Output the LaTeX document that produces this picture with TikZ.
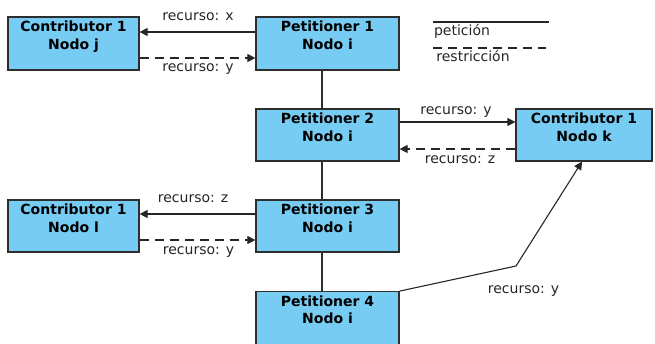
\documentclass[tikz,border=0pt]{standalone}
\usepackage{fontspec}
\setmainfont{DejaVu Sans}
\usetikzlibrary{arrows.meta}
\definecolor{boxfill}{RGB}{119,204,244}
\definecolor{edge}{RGB}{45,45,45}
\begin{document}
\begin{tikzpicture}[x=1pt,y=-1pt,
  box/.style={draw=edge,line width=1.2pt,fill=boxfill,minimum width=#1,minimum height=53pt,inner sep=0pt},
  box/.default=143pt,
  boxtext/.style={font=\fontsize{14pt}{17.5pt}\selectfont\bfseries,align=center,inner sep=0pt,anchor=north,yshift=-4.5pt},
  lbl/.style={font=\fontsize{14pt}{17pt}\selectfont,anchor=base,inner sep=0pt,text=black!85},
  arr/.style={draw=black!85,line width=1.1pt,-{Triangle[length=8pt,width=8pt]}},
  darr/.style={arr,dash pattern=on 9pt off 6pt},
  link/.style={draw=edge,line width=1.2pt}]
\clip (0,0) rectangle (655,343);
% boxes
\node[box=131pt,label={[boxtext]north:Contributor 1\\Nodo j}] (cj) at (73.5,43.5) {};
\node[box,label={[boxtext]north:Petitioner 1\\Nodo i}] (p1) at (327.5,43.5) {};
\node[box,minimum height=52pt,label={[boxtext]north:Petitioner 2\\Nodo i}] (p2) at (327.5,135) {};
\node[box=136pt,minimum height=52pt,label={[boxtext]north:Contributor 1\\Nodo k}] (ck) at (584,135) {};
\node[box,minimum height=52pt,label={[boxtext]north:Petitioner 3\\Nodo i}] (p3) at (327.5,226) {};
\node[box=131pt,minimum height=52pt,label={[boxtext]north:Contributor 1\\Nodo l}] (cl) at (73.5,226) {};
\node[box,minimum height=60pt,label={[boxtext]north:Petitioner 4\\Nodo i}] (p4) at (327.5,321.7) {};
% vertical links
\draw[link] (p1.south -| 322,0) -- (p2.north -| 322,0);
\draw[link] (p2.south -| 322,0) -- (p3.north -| 322,0);
\draw[link] (p3.south -| 322,0) -- (p4.north -| 322,0);
% arrows top
\draw[arr] (p1.west |- 0,32) -- (cj.east |- 0,32);
\draw[darr] (cj.east |- 0,58) -- (p1.west |- 0,58);
\node[lbl] (l1) at (198,20) {recurso: x};
\node[lbl] (l2) at (198,71) {recurso: y};
% arrows middle
\draw[arr] (p2.east |- 0,122) -- (ck.west |- 0,122);
\draw[darr] (ck.west |- 0,149) -- (p2.east |- 0,149);
\node[lbl] (l3) at (456,114.5) {recurso: y};
\node[lbl] (l4) at (460,163) {recurso: z};
% arrows lower
\draw[arr] (p3.west |- 0,214) -- (cl.east |- 0,214);
\draw[darr] (cl.east |- 0,240) -- (p3.west |- 0,240);
\node[lbl] (l5) at (193,202.7) {recurso: z};
\node[lbl] (l6) at (198.5,254) {recurso: y};
% p4 to ck
\coordinate (bend) at (516,266);
\draw[arr] (p4.north east) -- (bend) -- (ck.south -| 582,0);
\node[lbl] (l7) at (523.5,293) {recurso: y};
% legend
\coordinate (la1) at (433,22);
\coordinate (la2) at (549,22);
\coordinate (lb1) at (433,48);
\coordinate (lb2) at (546,48);
\draw[draw=black!85,line width=1.1pt] (la1) -- (la2);
\draw[draw=black!85,line width=1.1pt,dash pattern=on 9pt off 6pt] (lb1) -- (lb2);
\node[lbl] (lg1) at (462,35.7) {petición};
\node[lbl] (lg2) at (473,61.7) {restricción};
\end{tikzpicture}
\end{document}
